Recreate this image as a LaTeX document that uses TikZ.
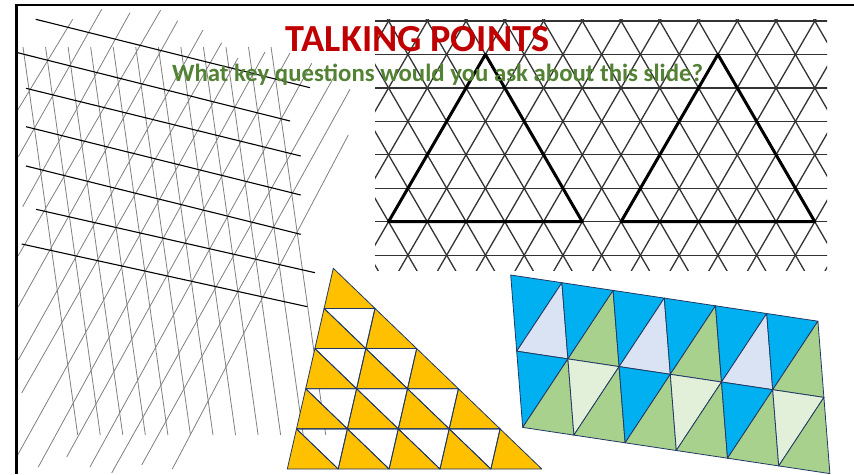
\documentclass[tikz,border=0pt]{standalone}
\usepackage{fontspec}
\setmainfont{Carlito}
\definecolor{titlered}{HTML}{C00000}
\definecolor{subgreen}{HTML}{548235}
\definecolor{tileyellow}{HTML}{FFC000}
\definecolor{tileblue}{HTML}{00B0F0}
\definecolor{tilegreen}{HTML}{A9D18E}
\definecolor{palegreen}{HTML}{E2F0D9}
\definecolor{paleblue}{HTML}{DAE3F3}
\definecolor{edgenavy}{HTML}{203864}
\begin{document}
\begin{tikzpicture}[x=1pt,y=-1pt,
  grayline/.style={draw=black!50, line width=0.8pt},
  blackline/.style={draw=black, line width=1.1pt},
  gridline/.style={draw=black!80, line width=1.3pt},
  boldtri/.style={draw=black, line width=3pt, line join=round},
  tileedge/.style={draw=edgenavy, line width=0.8pt, line join=round},
  frame/.style={draw=black, line width=2.5pt}]
\useasboundingbox (0,0) rectangle (854,474);
\fill[white] (0,0) rectangle (854,474);

% ---- left skewed grid ----
\foreach \i in {0,...,11}{
  \draw[grayline] ({23+22.55*\i},47) -- ({77.7+22.55*\i},435);
}
\foreach \a/\b/\c/\d in {72.7/19.3/16.7/111.7, 101.7/9.3/18.3/156.7, 130/12.7/22.7/206.7,
  160.7/10/18/256, 177.7/20.7/18.3/306.7, 203/30/18.3/360, 221.7/42.7/21.7/393,
  238/58/16.7/456.7, 265/52/38.3/467, 290/53/66.7/457, 311.7/63.3/90/467,
  335/75/111.7/473, 350/89.3/141.7/465, 348.3/135/172.3/469}{
  \draw[grayline] (\a,\b) -- (\c,\d);
}
\foreach \a/\b/\c/\d in {35.7/19.3/310/87.7, 16/52.3/290/121, 26/88.3/300.7/156,
  26/126.7/300.7/195, 26/166/300.7/234.3, 36/209.3/315/272.7, 21.7/244/307.3/306.7}{
  \draw[blackline] (\a,\b) -- (\c,\d);
}

% ---- triangular grid picture ----
\begin{scope}
  \fill[white] (375,19.5) rectangle (827,270);
  \clip (375,19.5) rectangle (827,270);
  \foreach \m in {-2,...,14}{
    \pgfmathsetmacro\cc{427.3+38.75*\m}
    \draw[gridline] ({\cc+21*0.5792},0) -- ({\cc-269*0.5792},290);
  }
  \foreach \m in {-6,...,11}{
    \pgfmathsetmacro\cc{427.3+38.75*\m}
    \draw[gridline] ({\cc-21*0.5792},0) -- ({\cc+269*0.5792},290);
  }
  \foreach \k in {0,...,7}{
    \draw[gridline] (370,{21+33.45*\k}) -- (830,{21+33.45*\k});
  }
  \draw[boldtri] (388.55,221.7) -- (485.4,54.45) -- (582.3,221.7) -- cycle;
  \draw[boldtri] (621.05,221.7) -- (717.9,54.45) -- (814.8,221.7) -- cycle;
\end{scope}

% ---- yellow triangle tiling ----
\begin{scope}[shift={(333.3,268.3)}, x={(50.9pt,0pt)}, y={(-9.2pt,-40.14pt)}]
  \foreach \r in {0,...,4}{
    \foreach \c in {0,...,\r}{
      \filldraw[tileedge, fill=tileyellow] (\c,\r) -- (\c,\r+1) -- (\c+1,\r+1) -- cycle;
    }
  }
  \foreach \r in {1,...,4}{
    \pgfmathtruncatemacro\rr{\r-1}
    \foreach \c in {0,...,\rr}{
      \draw[tileedge] (\c,\r) -- (\c+1,\r) -- (\c+1,\r+1) -- cycle;
    }
  }
\end{scope}

% ---- blue / green parallelogram tiling ----
\begin{scope}[shift={(510.7,275)}, x={(51.2pt,-7.7pt)}, y={(6pt,-76.2pt)}]
  \foreach \i/\ul/\lr in {0/tileblue/paleblue, 1/tileblue/tilegreen, 2/tileblue/paleblue,
                          3/tileblue/tilegreen, 4/tileblue/paleblue, 5/tileblue/tilegreen}{
    \filldraw[tileedge, fill=\ul] (\i,0) -- (\i+1,0) -- (\i,1) -- cycle;
    \filldraw[tileedge, fill=\lr] (\i+1,0) -- (\i+1,1) -- (\i,1) -- cycle;
  }
  \foreach \i/\ul/\lr in {0/tileblue/tilegreen, 1/palegreen/tilegreen, 2/tileblue/tilegreen,
                          3/palegreen/tilegreen, 4/tileblue/tilegreen, 5/palegreen/tilegreen}{
    \filldraw[tileedge, fill=\ul] (\i,1) -- (\i+1,1) -- (\i,2) -- cycle;
    \filldraw[tileedge, fill=\lr] (\i+1,1) -- (\i+1,2) -- (\i,2) -- cycle;
  }
\end{scope}

% ---- slide frame ----
\draw[frame] (16.7,474) -- (16.7,5) -- (856,5);

% ---- texts ----
\node[font=\bfseries\fontsize{38.3}{40}\selectfont, text=titlered, anchor=base, inner sep=0pt]
  (title) at (417.5,51.7) {TALKING POINTS};
\node[font=\bfseries\fontsize{24.8}{26}\selectfont, text=subgreen, anchor=base, inner sep=0pt]
  (subtitle) at (437.5,81) {What key questions would you ask about this slide?};
\end{tikzpicture}
\end{document}
